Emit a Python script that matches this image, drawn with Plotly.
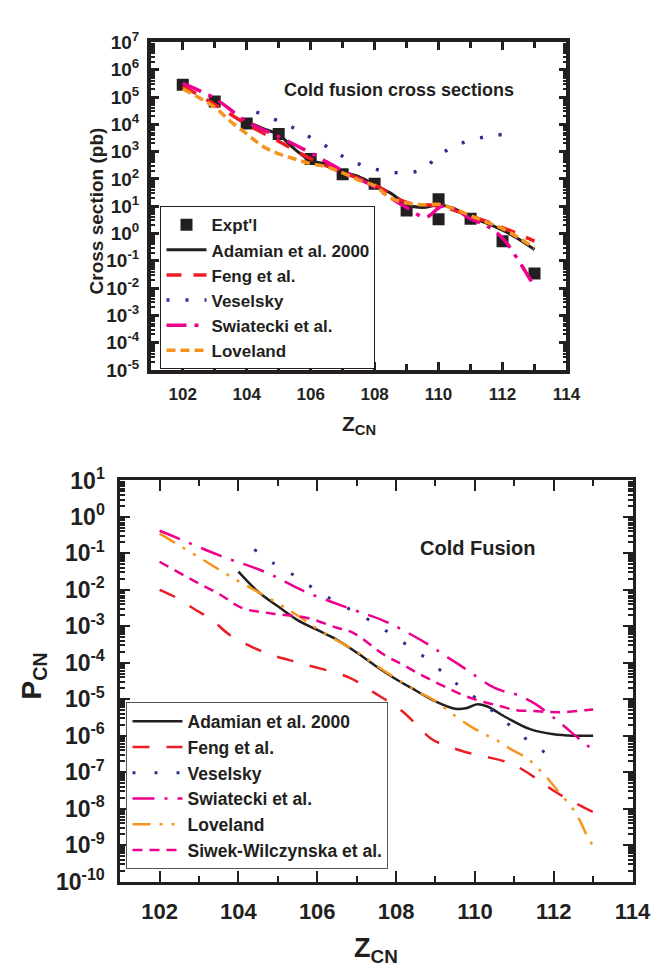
import plotly.graph_objects as go

# ---------------- Top panel: cold fusion cross sections (pb) ----------------
z_expt = [102, 103, 104, 105, 106, 107, 108, 109, 110, 110, 111, 112, 113]
sig_expt = [2.8e5, 6.8e4, 1.07e4, 4.4e3, 540, 148, 66, 7.0, 17.8, 3.3, 3.5, 0.52, 0.034]

z_adam_t = [104, 104.5, 105, 105.5, 106, 106.5, 107, 107.5, 108, 108.5, 109, 109.5, 110, 110.5, 111, 111.5, 112, 112.5, 113]
lg_adam_t = [4.1, 3.85, 3.62, 3.09, 2.67, 2.53, 2.25, 2.08, 1.78, 1.48, 1.07, 0.95, 1.05, 0.9, 0.6, 0.38, 0.12, -0.2, -0.59]

z_feng_t = [102, 103, 104, 105, 106, 107, 108, 109, 110, 111, 112, 113]
lg_feng_t = [5.4, 4.73, 4.0, 3.38, 2.74, 2.24, 1.78, 1.14, 1.0, 0.65, 0.22, -0.28]

z_ves_t = [104.3, 105, 105.5, 106, 106.5, 107, 107.5, 108, 108.5, 109, 109.5, 110, 110.5, 111, 111.5, 112]
lg_ves_t = [4.45, 4.12, 3.85, 3.51, 3.19, 2.83, 2.55, 2.36, 2.25, 2.22, 2.35, 2.85, 3.2, 3.42, 3.55, 3.63]

z_swi_t = [102, 103, 104, 105, 106, 107, 108, 108.5, 109, 109.6, 110.1, 110.5, 111, 111.5, 112, 112.5, 113]
lg_swi_t = [5.5, 4.95, 4.1, 3.55, 2.95, 2.3, 1.7, 1.3, 0.95, 0.6, 1.0, 0.9, 0.54, 0.29, -0.17, -0.99, -1.95]

z_lov_t = [102, 103, 103.5, 104, 104.5, 105, 105.5, 106, 106.5, 107, 107.5, 108, 108.5, 109, 109.5, 110, 110.5, 111, 111.5, 112, 112.5, 113]
lg_lov_t = [5.3, 4.62, 4.1, 3.65, 3.2, 2.92, 2.73, 2.56, 2.44, 2.22, 1.96, 1.75, 1.3, 1.12, 1.05, 1.07, 0.9, 0.65, 0.42, 0.18, -0.15, -0.53]

# ---------------- Bottom panel: P_CN ----------------
z_adam_b = [104, 104.5, 105, 105.5, 106, 106.5, 107, 107.5, 108, 108.5, 109, 109.5, 109.8, 110.05, 110.3, 110.8, 111.4, 112, 112.5, 113]
lg_adam_b = [-1.5, -2.05, -2.45, -2.83, -3.1, -3.37, -3.72, -4.1, -4.45, -4.76, -5.06, -5.26, -5.24, -5.14, -5.19, -5.5, -5.82, -5.96, -6.0, -6.0]

z_feng_b = [102, 102.4, 102.9, 103.3, 103.8, 104.7, 105.6, 106.8, 107.4, 108.15, 108.9, 109.3, 109.8, 110.25, 110.75, 111.1, 111.65, 112.0, 112.55, 113]
lg_feng_b = [-2.0, -2.2, -2.54, -2.8, -3.25, -3.73, -4.02, -4.4, -4.79, -5.32, -6.09, -6.28, -6.46, -6.57, -6.70, -6.86, -7.24, -7.51, -7.85, -8.09]

z_ves_b = [104.4, 104.9, 105.5, 106.0, 106.6, 107.2, 107.7, 108.25, 108.8, 109.3, 109.7, 110.3, 110.8, 111.3, 111.9]
lg_ves_b = [-0.89, -1.28, -1.66, -2.03, -2.40, -2.75, -3.09, -3.49, -3.91, -4.37, -4.71, -5.19, -5.64, -6.09, -6.55]

z_swi_b = [102, 102.3, 103.55, 104.7, 105.65, 106.9, 107.65, 108.15, 108.85, 109.25, 109.6, 109.95, 110.4, 110.7, 111.05, 111.55, 112.15, 112.65, 113]
lg_swi_b = [-0.38, -0.51, -1.07, -1.52, -2.03, -2.54, -2.83, -3.09, -3.52, -3.81, -4.05, -4.31, -4.63, -4.77, -4.87, -5.14, -5.64, -6.09, -6.39]

z_lov_b = [102, 102.3, 103.35, 104, 104.4, 105, 105.45, 106.15, 107, 107.5, 108, 108.5, 109, 109.5, 109.9, 110.25, 110.55, 110.9, 111.3, 111.6, 111.9, 112.15, 112.45, 112.65, 112.85, 113]
lg_lov_b = [-0.46, -0.65, -1.34, -1.76, -2.0, -2.37, -2.67, -3.17, -3.7, -4.08, -4.43, -4.76, -5.05, -5.46, -5.75, -5.96, -6.12, -6.36, -6.60, -6.89, -7.24, -7.58, -7.95, -8.3, -8.75, -9.02]

z_siw_b = [102, 102.85, 103.55, 104.1, 104.8, 105.75, 106.5, 106.9, 107.7, 108.2, 108.6, 109.0, 109.4, 109.8, 110.25, 110.65, 111.05, 111.5, 111.9, 112.3, 112.8, 113]
lg_siw_b = [-1.23, -1.74, -2.14, -2.5, -2.64, -2.77, -3.04, -3.17, -3.78, -4.07, -4.31, -4.53, -4.74, -4.93, -5.08, -5.19, -5.30, -5.32, -5.35, -5.35, -5.30, -5.28]

# tick labels (decade exponents)
exp_top = list(range(-5, 8))
exp_bot = list(range(-10, 2))
x_ticks = [102, 104, 106, 108, 110, 112, 114]

BLACK = "#231f20"
RED = "#ed1c24"
BLUE = "#2e3192"
MAGENTA = "#ec008c"
ORANGE = "#f7941d"
FONT = "Liberation Sans, Arial, sans-serif"

def p10(lst):
    return [10.0 ** v for v in lst]

fig = go.Figure()

# top panel traces
fig.add_trace(go.Scatter(x=z_expt, y=sig_expt, mode="markers", name="Expt'l",
                         marker=dict(symbol="square", size=12, color=BLACK),
                         xaxis="x", yaxis="y", legend="legend"))
fig.add_trace(go.Scatter(x=z_adam_t, y=p10(lg_adam_t), mode="lines", name="Adamian et al. 2000",
                         line=dict(color=BLACK, width=3, shape="spline"),
                         xaxis="x", yaxis="y", legend="legend"))
fig.add_trace(go.Scatter(x=z_feng_t, y=p10(lg_feng_t), mode="lines", name="Feng et al.",
                         line=dict(color=RED, width=3.5, dash="15px,12px", shape="spline"),
                         xaxis="x", yaxis="y", legend="legend"))
fig.add_trace(go.Scatter(x=z_ves_t, y=p10(lg_ves_t), mode="lines", name="Veselsky",
                         line=dict(color=BLUE, width=3.5, dash="3px,16px", shape="spline"),
                         xaxis="x", yaxis="y", legend="legend"))
fig.add_trace(go.Scatter(x=z_swi_t, y=p10(lg_swi_t), mode="lines", name="Swiatecki et al.",
                         line=dict(color=MAGENTA, width=3.5, dash="20px,8px,4px,8px", shape="spline"),
                         xaxis="x", yaxis="y", legend="legend"))
fig.add_trace(go.Scatter(x=z_lov_t, y=p10(lg_lov_t), mode="lines", name="Loveland",
                         line=dict(color=ORANGE, width=3.5, dash="9px,5px", shape="spline"),
                         xaxis="x", yaxis="y", legend="legend"))

# bottom panel traces
fig.add_trace(go.Scatter(x=z_adam_b, y=p10(lg_adam_b), mode="lines", name="Adamian et al. 2000",
                         line=dict(color=BLACK, width=2.5, shape="spline"),
                         xaxis="x2", yaxis="y2", legend="legend2"))
fig.add_trace(go.Scatter(x=z_feng_b, y=p10(lg_feng_b), mode="lines", name="Feng et al.",
                         line=dict(color=RED, width=2.5, dash="17px,17px", shape="spline"),
                         xaxis="x2", yaxis="y2", legend="legend2"))
fig.add_trace(go.Scatter(x=z_ves_b, y=p10(lg_ves_b), mode="lines", name="Veselsky",
                         line=dict(color=BLUE, width=3, dash="3px,19px", shape="spline"),
                         xaxis="x2", yaxis="y2", legend="legend2"))
fig.add_trace(go.Scatter(x=z_swi_b, y=p10(lg_swi_b), mode="lines", name="Swiatecki et al.",
                         line=dict(color=MAGENTA, width=2.5, dash="22px,10px,3px,10px", shape="spline"),
                         xaxis="x2", yaxis="y2", legend="legend2"))
fig.add_trace(go.Scatter(x=z_lov_b, y=p10(lg_lov_b), mode="lines", name="Loveland",
                         line=dict(color=ORANGE, width=2.5, dash="18px,9px,3px,9px,3px,9px", shape="spline"),
                         xaxis="x2", yaxis="y2", legend="legend2"))
fig.add_trace(go.Scatter(x=z_siw_b, y=p10(lg_siw_b), mode="lines", name="Siwek-Wilczynska et al.",
                         line=dict(color=MAGENTA, width=2.5, dash="10px,7px", shape="spline"),
                         xaxis="x2", yaxis="y2", legend="legend2"))

W, H = 662, 969
# pixel geometry of the plot frames
t_l, t_r, t_t, t_b = 147, 575, 18, 356
b_l, b_r, b_t, b_b = 115.5, 643, 470, 884

xcommon = dict(range=[101, 114], tickvals=x_ticks, ticktext=[str(v) for v in x_ticks],
               ticks="inside", showline=True, mirror="ticks",
               linecolor=BLACK, tickcolor=BLACK, showgrid=False, zeroline=False)
ycommon = dict(type="log", ticks="inside", showline=True,
               mirror="ticks", linecolor=BLACK, tickcolor=BLACK, showgrid=False, zeroline=False)

fig.update_layout(
    width=W, height=H, margin=dict(l=0, r=0, t=0, b=0),
    paper_bgcolor="white", plot_bgcolor="white",
    font=dict(family=FONT, color=BLACK, weight="bold"),
    showlegend=True,
    xaxis=dict(xcommon, domain=[t_l / W, t_r / W], anchor="y", linewidth=3.5, ticklen=8, tickwidth=2.5,
               tickfont=dict(size=17, family=FONT, weight="bold"), ticklabelstandoff=6,
               minor=dict(dtick=1, tick0=101, ticks="inside", ticklen=6, tickwidth=2.5, tickcolor=BLACK)),
    yaxis=dict(ycommon, domain=[1 - t_b / H, 1 - t_t / H], anchor="x", range=[-5, 7], linewidth=3.5,
               tickvals=[10.0 ** e for e in exp_top],
               ticktext=["10<sup>%d</sup>" % e for e in exp_top],
               ticklen=8, tickwidth=2.5, tickfont=dict(size=19, family=FONT, weight="bold"),
               ticklabelstandoff=4,
               minor=dict(ticks="inside", ticklen=4, tickwidth=1.5, tickcolor=BLACK, dtick="D1")),
    xaxis2=dict(xcommon, domain=[b_l / W, b_r / W], anchor="y2", linewidth=2.5, ticklen=11, tickwidth=2,
                tickfont=dict(size=22, family=FONT, weight="bold"), ticklabelstandoff=8,
                minor=dict(dtick=1, tick0=101, ticks="inside", ticklen=6, tickwidth=2, tickcolor=BLACK)),
    yaxis2=dict(ycommon, domain=[1 - b_b / H, 1 - b_t / H], anchor="x2", range=[-10, 1], linewidth=2.5,
                tickvals=[10.0 ** e for e in exp_bot],
                ticktext=["10<sup>%d</sup>" % e for e in exp_bot],
                ticklen=10, tickwidth=2, tickfont=dict(size=23, family=FONT, weight="bold"),
                ticklabelstandoff=8,
                minor=dict(ticks="inside", ticklen=5, tickwidth=1.5, tickcolor=BLACK, dtick="D1")),
    legend=dict(x=157 / W, y=1 - 187 / H, xanchor="left", yanchor="top", bgcolor="white",
                bordercolor=BLACK, borderwidth=1, itemwidth=40, tracegroupgap=0,
                font=dict(size=17, family=FONT, weight="bold", color=BLACK)),
    legend2=dict(x=122 / W, y=1 - 699 / H, xanchor="left", yanchor="top", bgcolor="white",
                 bordercolor="#555555", borderwidth=1, itemwidth=50, tracegroupgap=0,
                 font=dict(size=17.5, family=FONT, weight="bold", color=BLACK)),
    annotations=[
        dict(text="Cold fusion cross sections", x=403 / W, y=1 - 67 / H, xref="paper", yref="paper",
             xanchor="center", yanchor="middle",
             showarrow=False, font=dict(size=18, family=FONT, weight="bold")),
        dict(text="Cold Fusion", x=484 / W, y=1 - 540 / H, xref="paper", yref="paper",
             xanchor="center", yanchor="middle",
             showarrow=False, font=dict(size=20, family=FONT, weight="bold")),
        dict(text="Z<sub>CN</sub>", x=361 / W, y=1 - 413 / H, xref="paper", yref="paper",
             xanchor="center", yanchor="middle",
             showarrow=False, font=dict(size=21, family=FONT, weight="bold")),
        dict(text="Z<sub>CN</sub>", x=379 / W, y=1 - 955 / H, xref="paper", yref="paper",
             xanchor="center", yanchor="middle",
             showarrow=False, font=dict(size=27, family=FONT, weight="bold")),
        dict(text="Cross section (pb)", x=91 / W, y=1 - 192 / H, xref="paper", yref="paper",
             xanchor="center", yanchor="middle",
             showarrow=False, textangle=-90, font=dict(size=19, family=FONT, weight="bold")),
        dict(text="P<sub>CN</sub>", x=26 / W, y=1 - 672 / H, xref="paper", yref="paper",
             xanchor="center", yanchor="middle",
             showarrow=False, textangle=-90, font=dict(size=28, family=FONT, weight="bold")),
    ],
)

fig.write_html("out.html")
